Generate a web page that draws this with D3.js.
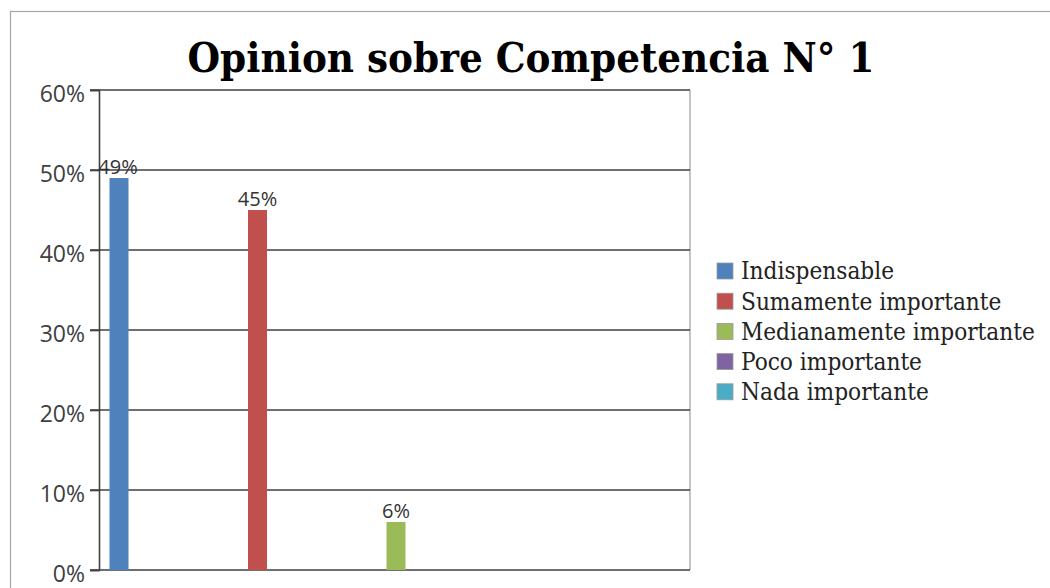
<!DOCTYPE html>
<html><head><meta charset="utf-8">
<script src="https://cdn.jsdelivr.net/npm/d3@7"></script>
<style>body{margin:0;background:#fff}svg{display:block}</style>
</head><body>
<svg id="c" width="1050" height="588"></svg>
<script>
const title = "Opinion sobre Competencia N° 1";
const series = ["Indispensable","Sumamente importante","Medianamente importante","Poco importante","Nada importante"];
const values = [49,45,6,0,0];
const colors = ["#4F81BD","#C0504D","#9BBB59","#8064A2","#4BACC6"];
const yTicks = [0,10,20,30,40,50,60];

const svg = d3.select("#c");
svg.append("rect").attr("x",10.5).attr("y",11.5).attr("width",1060).attr("height",600)
  .attr("fill","#fff").attr("stroke","#a6a6a6").attr("stroke-width",1.2);

const L=99, R=690, T=90, B=570;
const y = d3.scaleLinear().domain([0,60]).range([B,T]);
const x = d3.scalePoint().domain(series).range([119,673]);
const bw = 19;

svg.append("line").attr("x1",R).attr("x2",R).attr("y1",T).attr("y2",B).attr("stroke","#b0b0b0").attr("stroke-width",1.5);

svg.append("g").selectAll("line").data(yTicks).join("line")
  .attr("x1",L-9).attr("x2",R).attr("y1",d=>y(d)).attr("y2",d=>y(d))
  .attr("stroke","#404040").attr("stroke-width",1.6);

svg.append("g").selectAll("rect").data(values).join("rect")
  .attr("x",(d,i)=>x(series[i])-bw/2).attr("width",bw)
  .attr("y",d=>y(d)).attr("height",d=>B-y(d)).attr("fill",(d,i)=>colors[i]);

const ax = svg.append("g").attr("transform",`translate(${L},0)`)
  .call(d3.axisLeft(y).tickValues(yTicks).tickFormat(d=>d+"%").tickSize(9).tickPadding(5));
ax.select(".domain").attr("stroke","#404040").attr("stroke-width",1.6);
ax.selectAll(".tick line").attr("stroke","#404040").attr("stroke-width",1.6);
ax.selectAll("text").attr("font-family","'Open Sans', sans-serif").attr("font-size",23).attr("fill","#404040").attr("dy","0.5em");

svg.append("g").selectAll("text").data(values.map((v,i)=>({v,i})).filter(d=>d.v>0)).join("text")
  .attr("x",d=>x(series[d.i])+(d.i===0?-1:0)).attr("y",d=>y(d.v)-4)
  .attr("text-anchor","middle").attr("font-family","'Open Sans', sans-serif").attr("font-size",20).attr("fill","#333")
  .text(d=>d.v+"%");

const tt = svg.append("text").attr("x",531).attr("y",72).attr("text-anchor","middle")
  .attr("font-family","'DejaVu Serif', serif").attr("font-stretch","condensed").attr("font-weight","bold").attr("font-size",48).attr("fill","#000").text(title);
const tw = tt.node().getComputedTextLength();
tt.attr("font-size",48*687/tw);

const lg = svg.append("g").selectAll("g").data(series).join("g")
  .attr("transform",(d,i)=>`translate(717,${271+i*30.2})`);
lg.append("rect").attr("x",0).attr("y",-8).attr("width",16).attr("height",16)
  .attr("fill",(d,i)=>colors[i]).attr("stroke","#999").attr("stroke-width",0.8);
const lt = lg.append("text").attr("x",24).attr("y",0).attr("dy","0.35em")
  .attr("font-family","'DejaVu Serif', serif").attr("font-stretch","condensed").attr("font-size",20).attr("fill","#222").text(d=>d);
const mw = lt.filter((d,i)=>i===2).node().getComputedTextLength();
lt.attr("font-size",20*294/mw);
</script>
</body></html>
